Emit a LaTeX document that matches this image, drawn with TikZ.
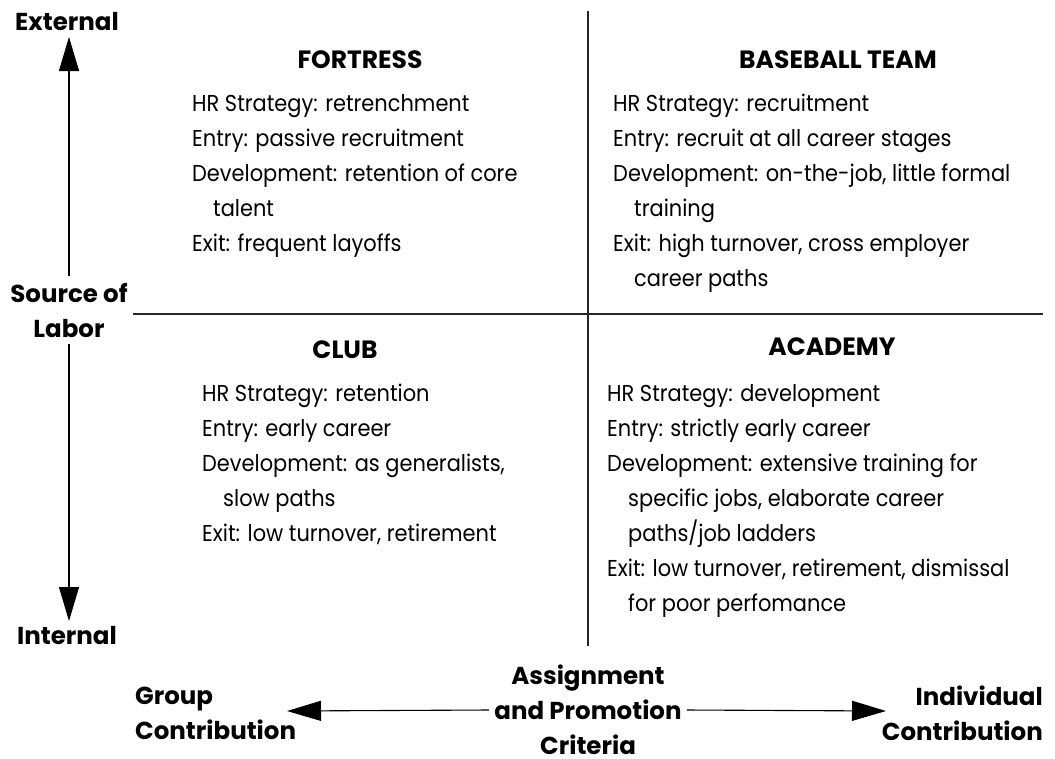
\documentclass[tikz,border=0pt]{standalone}
\usepackage{fontspec}
\setmainfont{Poppins}
\newfontfamily\bodyfont{Poppins}[FakeStretch=0.91]
\usetikzlibrary{arrows.meta}
\begin{document}
\begin{tikzpicture}[x=1pt,y=-1pt,
  lbl/.style={font=\fontsize{24.5}{35}\selectfont\bfseries, align=center, inner sep=0pt},
  head/.style={font=\fontsize{25}{30}\selectfont\bfseries, inner sep=0pt},
  body/.style={font=\bodyfont\fontsize{23}{35}\selectfont, align=left, inner sep=0pt, anchor=base west},
  divider/.style={line width=1.3pt, draw=black!85},
  axis/.style={line width=1.1pt, -{Triangle[length=34pt,width=20pt]}}]
\useasboundingbox (0,0) rectangle (1055,758);
% dividers
\coordinate (vtop) at (588,11);
\coordinate (vbot) at (588,646);
\coordinate (hleft) at (133,314);
\coordinate (hright) at (1043,314);
\draw[divider] (vtop) -- (vbot);
\draw[divider] (hleft) -- (hright);
% axis labels
\node[lbl] (ext) at (67,22) {External};
\node[lbl, inner ysep=7pt] (src) at (69,310) {Source of\\Labor};
\node[lbl] (int) at (67,636) {Internal};
\node[lbl, align=left, anchor=west] (grp) at (135,713) {Group\\Contribution};
\node[lbl, inner xsep=5pt] (crit) at (588,710) {Assignment\\and Promotion\\Criteria};
\node[lbl, align=right, anchor=east] (ind) at (1043,713) {Individual\\Contribution};
\coordinate (uptip) at (69,37);
\coordinate (downtip) at (69,621);
\coordinate (ltip) at (287,711);
\coordinate (rtip) at (886,711);
\draw[axis] (src.north) -- (uptip);
\draw[axis] (src.south) -- (downtip);
\draw[axis] (crit.west) -- (ltip);
\draw[axis] (crit.east) -- (rtip);
% headings
\node[head] (fort) at (360,60) {FORTRESS};
\node[head] (base) at (838,60) {BASEBALL TEAM};
\node[head] (club) at (345,350) {CLUB};
\node[head] (acad) at (832,347) {ACADEMY};
% bodies (anchor = baseline of the last line)
\node[body] (fortb) at (192,251) {HR Strategy: retrenchment\\
Entry: passive recruitment\\
Development: retention of core\\
\hspace*{21pt}talent\\
Exit: frequent layoffs};
\node[body] (baseb) at (613,286) {HR Strategy: recruitment\\
Entry: recruit at all career stages\\
Development: on-the-job, little formal\\
\hspace*{21pt}training\\
Exit: high turnover, cross employer\\
\hspace*{21pt}career paths};
\node[body] (clubb) at (202,541) {HR Strategy: retention\\
Entry: early career\\
Development: as generalists,\\
\hspace*{21pt}slow paths\\
Exit: low turnover, retirement};
\node[body] (acadb) at (607,611) {HR Strategy: development\\
Entry: strictly early career\\
Development: extensive training for\\
\hspace*{21pt}specific jobs, elaborate career\\
\hspace*{21pt}paths/job ladders\\
Exit: low turnover, retirement, dismissal\\
\hspace*{21pt}for poor perfomance};
\end{tikzpicture}
\end{document}
